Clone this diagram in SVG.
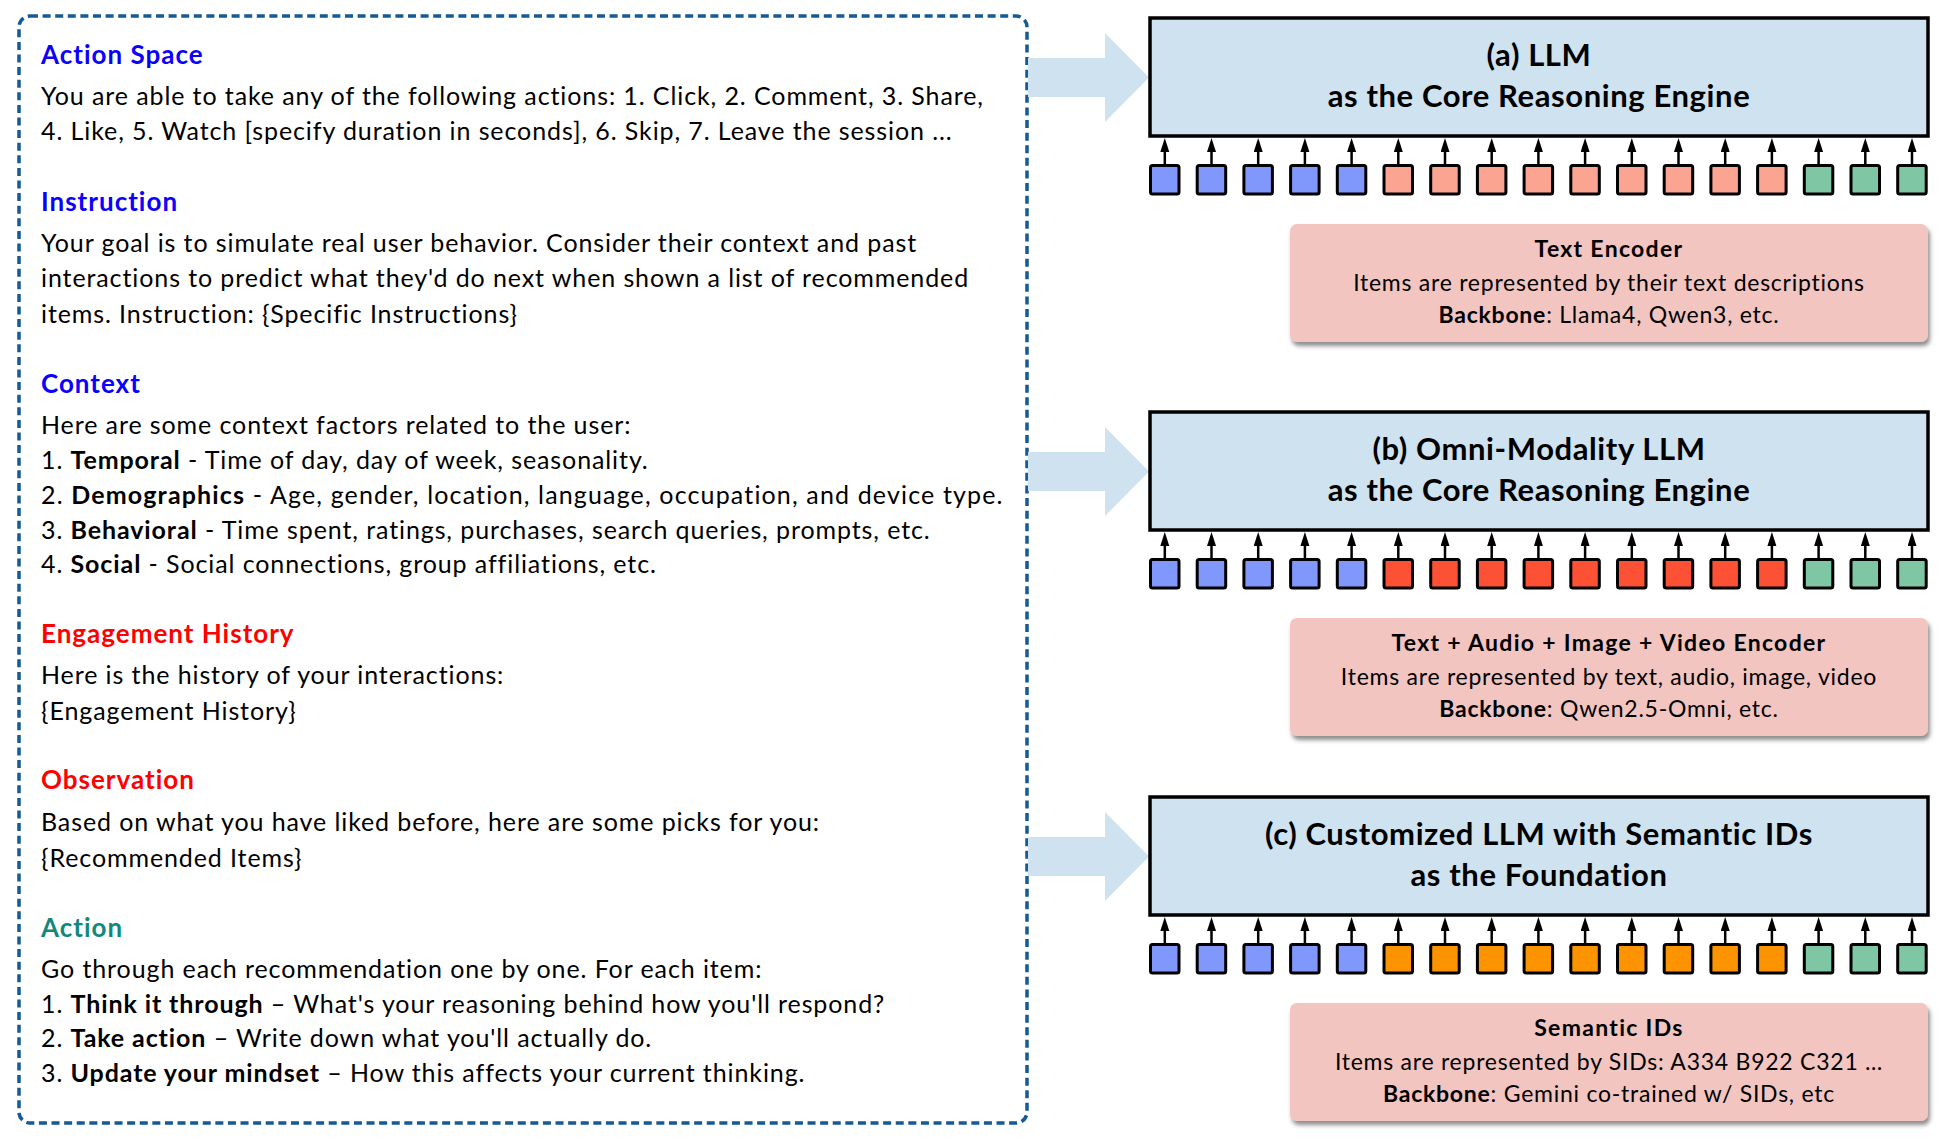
<svg xmlns="http://www.w3.org/2000/svg" width="1946" height="1143" viewBox="0 0 1946 1143">
  <style>
    text { font-family: Lato, "Noto Sans", "DejaVu Sans", sans-serif; fill: #000; }
    .head { font-size: 26px; font-weight: 700; letter-spacing: 1px; }
    .blue { fill: #0a00ff; }
    .red { fill: #ff0000; }
    .teal { fill: #13877d; }
    .body { font-size: 25px; letter-spacing: 0.9px; }
    .wide { letter-spacing: 1.15px; }
    .b { font-weight: 700; }
    .llm { fill: #cfe2f0; stroke: #000; stroke-width: 3.5; }
    .llm-title { font-size: 31px; font-weight: 700; letter-spacing: 0.6px; text-anchor: middle; }
    .enc { fill: #f2c5c0; }
    .enc-t { font-size: 23px; letter-spacing: 0.75px; text-anchor: middle; }
    .enc-h { font-size: 23px; font-weight: 700; letter-spacing: 1.3px; text-anchor: middle; }
    .tok { stroke: #000; stroke-width: 3; }
    .t-blue { fill: #8097fb; }
    .t-salmon { fill: #fca492; }
    .t-red { fill: #fc5134; }
    .t-orange { fill: #fc9300; }
    .t-green { fill: #7fc6a4; }
    .feed { fill: #cfe2f0; }
    .up { stroke: #000; stroke-width: 2.5; marker-end: url(#head); }
  </style>
  <defs>
    <marker id="head" markerUnits="userSpaceOnUse" markerWidth="15" markerHeight="10" refX="0" refY="4.5" orient="auto">
      <path d="M0,0 L14,4.5 L0,9 z" fill="#000"/>
    </marker>
    <filter id="shadow" x="-5%" y="-10%" width="112%" height="130%">
      <feDropShadow dx="2" dy="4" stdDeviation="2" flood-color="#404040" flood-opacity="0.6"/>
    </filter>
    <!-- one row of 17 input tokens with upward arrows; fill of middle tokens set per row -->
    <g id="tok-arrows">
      <line class="up" x1="1164.8" y1="164" x2="1164.8" y2="152"/>
      <line class="up" x1="1211.5" y1="164" x2="1211.5" y2="152"/>
      <line class="up" x1="1258.2" y1="164" x2="1258.2" y2="152"/>
      <line class="up" x1="1304.9" y1="164" x2="1304.9" y2="152"/>
      <line class="up" x1="1351.6" y1="164" x2="1351.6" y2="152"/>
      <line class="up" x1="1398.3" y1="164" x2="1398.3" y2="152"/>
      <line class="up" x1="1445.0" y1="164" x2="1445.0" y2="152"/>
      <line class="up" x1="1491.7" y1="164" x2="1491.7" y2="152"/>
      <line class="up" x1="1538.4" y1="164" x2="1538.4" y2="152"/>
      <line class="up" x1="1585.1" y1="164" x2="1585.1" y2="152"/>
      <line class="up" x1="1631.8" y1="164" x2="1631.8" y2="152"/>
      <line class="up" x1="1678.5" y1="164" x2="1678.5" y2="152"/>
      <line class="up" x1="1725.2" y1="164" x2="1725.2" y2="152"/>
      <line class="up" x1="1771.9" y1="164" x2="1771.9" y2="152"/>
      <line class="up" x1="1818.6" y1="164" x2="1818.6" y2="152"/>
      <line class="up" x1="1865.3" y1="164" x2="1865.3" y2="152"/>
      <line class="up" x1="1912.0" y1="164" x2="1912.0" y2="152"/>
    </g>
    <g id="tok-side">
      <rect class="tok t-blue" x="1150.5" y="165.5" width="28.5" height="28.5" rx="2"/>
      <rect class="tok t-blue" x="1197.2" y="165.5" width="28.5" height="28.5" rx="2"/>
      <rect class="tok t-blue" x="1243.9" y="165.5" width="28.5" height="28.5" rx="2"/>
      <rect class="tok t-blue" x="1290.6" y="165.5" width="28.5" height="28.5" rx="2"/>
      <rect class="tok t-blue" x="1337.3" y="165.5" width="28.5" height="28.5" rx="2"/>
      <rect class="tok t-green" x="1804.3" y="165.5" width="28.5" height="28.5" rx="2"/>
      <rect class="tok t-green" x="1851.0" y="165.5" width="28.5" height="28.5" rx="2"/>
      <rect class="tok t-green" x="1897.7" y="165.5" width="28.5" height="28.5" rx="2"/>
    </g>
    <g id="tok-mid">
      <rect class="tok" x="1384.0" y="165.5" width="28.5" height="28.5" rx="2"/>
      <rect class="tok" x="1430.7" y="165.5" width="28.5" height="28.5" rx="2"/>
      <rect class="tok" x="1477.4" y="165.5" width="28.5" height="28.5" rx="2"/>
      <rect class="tok" x="1524.1" y="165.5" width="28.5" height="28.5" rx="2"/>
      <rect class="tok" x="1570.8" y="165.5" width="28.5" height="28.5" rx="2"/>
      <rect class="tok" x="1617.5" y="165.5" width="28.5" height="28.5" rx="2"/>
      <rect class="tok" x="1664.2" y="165.5" width="28.5" height="28.5" rx="2"/>
      <rect class="tok" x="1710.9" y="165.5" width="28.5" height="28.5" rx="2"/>
      <rect class="tok" x="1757.6" y="165.5" width="28.5" height="28.5" rx="2"/>
    </g>
    <!-- wide feed arrow from the prompt panel into a model box -->
    <polygon id="feed-arrow" class="feed" points="1028,58 1105,58 1105,33 1149,77.5 1105,122 1105,97 1028,97"/>
  </defs>

  <!-- Prompt panel -->
  <g id="prompt">
    <rect x="19" y="16" width="1008" height="1107" rx="11" fill="none" stroke="#135a96" stroke-width="3.5" stroke-dasharray="8 4.6"/>
    <text class="head blue" x="41" y="64">Action Space</text>
    <text class="body" x="41" y="105">You are able to take any of the following actions: 1. Click, 2. Comment, 3. Share,</text>
    <text class="body" x="41" y="140">4. Like, 5. Watch [specify duration in seconds], 6. Skip, 7. Leave the session ...</text>

    <text class="head blue" x="41" y="211">Instruction</text>
    <text class="body" x="41" y="252">Your goal is to simulate real user behavior. Consider their context and past</text>
    <text class="body" x="41" y="287">interactions to predict what they'd do next when shown a list of recommended</text>
    <text class="body" x="41" y="323">items. Instruction: {Specific Instructions}</text>

    <text class="head blue" x="41" y="393">Context</text>
    <text class="body" x="41" y="434">Here are some context factors related to the user:</text>
    <text class="body" x="41" y="469">1. <tspan class="b">Temporal</tspan> - Time of day, day of week, seasonality.</text>
    <text class="body wide" x="41" y="504">2. <tspan class="b">Demographics</tspan> - Age, gender, location, language, occupation, and device type.</text>
    <text class="body" x="41" y="539">3. <tspan class="b">Behavioral</tspan> - Time spent, ratings, purchases, search queries, prompts, etc.</text>
    <text class="body" x="41" y="573">4. <tspan class="b">Social</tspan> - Social connections, group affiliations, etc.</text>

    <text class="head red" x="41" y="643">Engagement History</text>
    <text class="body" x="41" y="684">Here is the history of your interactions:</text>
    <text class="body" x="41" y="720">{Engagement History}</text>

    <text class="head red" x="41" y="789">Observation</text>
    <text class="body" x="41" y="831">Based on what you have liked before, here are some picks for you:</text>
    <text class="body" x="41" y="867">{Recommended Items}</text>

    <text class="head teal" x="41" y="937">Action</text>
    <text class="body" x="41" y="978">Go through each recommendation one by one. For each item:</text>
    <text class="body" x="41" y="1013">1. <tspan class="b">Think it through</tspan> – What's your reasoning behind how you'll respond?</text>
    <text class="body" x="41" y="1047">2. <tspan class="b">Take action</tspan> – Write down what you'll actually do.</text>
    <text class="body" x="41" y="1082">3. <tspan class="b">Update your mindset</tspan> – How this affects your current thinking.</text>
  </g>

  <!-- Connectors: prompt feeds each model, tokens feed each model -->
  <g id="connectors">
    <use href="#feed-arrow"/>
    <use href="#feed-arrow" transform="translate(0,394)"/>
    <use href="#feed-arrow" transform="translate(0,779)"/>
    <use href="#tok-arrows"/>
    <use href="#tok-arrows" transform="translate(0,394)"/>
    <use href="#tok-arrows" transform="translate(0,779)"/>
  </g>

  <!-- (a) text LLM -->
  <g id="model-a">
    <rect class="llm" x="1150" y="18" width="778" height="118"/>
    <text class="llm-title" x="1539" y="66">(a) LLM</text>
    <text class="llm-title" x="1539" y="107">as the Core Reasoning Engine</text>
  </g>
  <g id="tokens-a">
    <use href="#tok-side"/>
    <use href="#tok-mid" class="t-salmon"/>
  </g>
  <g id="encoder-a">
    <rect class="enc" x="1290" y="224" width="638" height="118" rx="7" filter="url(#shadow)"/>
    <text class="enc-h" x="1609" y="257">Text Encoder</text>
    <text class="enc-t" x="1609" y="291">Items are represented by their text descriptions</text>
    <text class="enc-t" x="1609" y="323"><tspan class="b">Backbone</tspan>: Llama4, Qwen3, etc.</text>
  </g>

  <!-- (b) omni-modality LLM -->
  <g id="model-b">
    <rect class="llm" x="1150" y="412" width="778" height="118"/>
    <text class="llm-title" x="1539" y="460">(b) Omni-Modality LLM</text>
    <text class="llm-title" x="1539" y="501">as the Core Reasoning Engine</text>
  </g>
  <g id="tokens-b" transform="translate(0,394)">
    <use href="#tok-side"/>
    <use href="#tok-mid" class="t-red"/>
  </g>
  <g id="encoder-b">
    <rect class="enc" x="1290" y="618" width="638" height="118" rx="7" filter="url(#shadow)"/>
    <text class="enc-h" x="1609" y="651">Text + Audio + Image + Video Encoder</text>
    <text class="enc-t" x="1609" y="685">Items are represented by text, audio, image, video</text>
    <text class="enc-t" x="1609" y="717"><tspan class="b">Backbone</tspan>: Qwen2.5-Omni, etc.</text>
  </g>

  <!-- (c) LLM with semantic IDs -->
  <g id="model-c">
    <rect class="llm" x="1150" y="797" width="778" height="118"/>
    <text class="llm-title" x="1539" y="845">(c) Customized LLM with Semantic IDs</text>
    <text class="llm-title" x="1539" y="886">as the Foundation</text>
  </g>
  <g id="tokens-c" transform="translate(0,779)">
    <use href="#tok-side"/>
    <use href="#tok-mid" class="t-orange"/>
  </g>
  <g id="encoder-c">
    <rect class="enc" x="1290" y="1003" width="638" height="118" rx="7" filter="url(#shadow)"/>
    <text class="enc-h" x="1609" y="1036">Semantic IDs</text>
    <text class="enc-t" x="1609" y="1070">Items are represented by SIDs: A334 B922 C321 …</text>
    <text class="enc-t" x="1609" y="1102"><tspan class="b">Backbone</tspan>: Gemini co-trained w/ SIDs, etc</text>
  </g>
</svg>
